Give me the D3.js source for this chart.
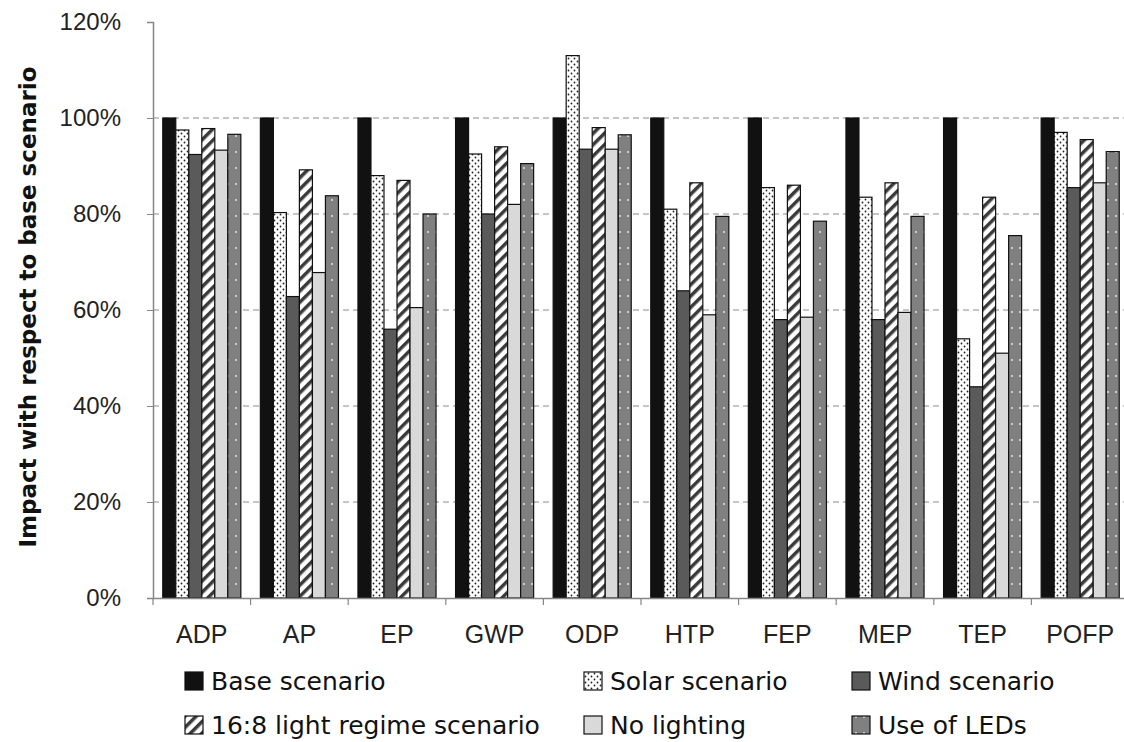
<!DOCTYPE html>
<html>
<head>
<meta charset="utf-8">
<script src="https://cdn.jsdelivr.net/npm/d3@7"></script>
<style>
  body { margin: 0; background: #fff; }
  svg { font-family: "DejaVu Sans", sans-serif; }
</style>
</head>
<body>
<svg id="chart" width="1124" height="742"></svg>
<script>
const categories = ['ADP', 'AP', 'EP', 'GWP', 'ODP', 'HTP', 'FEP', 'MEP', 'TEP', 'POFP'];
const seriesNames = ['Base scenario', 'Solar scenario', 'Wind scenario',
    '16:8 light regime scenario', 'No lighting', 'Use of LEDs'];
const base    = [100, 100, 100, 100, 100, 100, 100, 100, 100, 100];
const solar   = [97.5, 80.3, 88, 92.5, 113, 81, 85.5, 83.5, 54, 97];
const wind    = [92.4, 62.8, 56, 80, 93.5, 64, 58, 58, 44, 85.5];
const regime  = [97.8, 89.2, 87, 94, 98, 86.5, 86, 86.5, 83.5, 95.5];
const noLight = [93.3, 67.8, 60.5, 82, 93.5, 59, 58.5, 59.5, 51, 86.5];
const leds    = [96.6, 83.8, 80, 90.5, 96.5, 79.5, 78.5, 79.5, 75.5, 93];
const yTicks = [0, 20, 40, 60, 80, 100, 120];

const series = [base, solar, wind, regime, noLight, leds];
const fills = ['#111111', 'url(#dots)', '#5a5a5a', 'url(#stripes)', '#d9d9d9', 'url(#ledDots)'];

const svg = d3.select('#chart');
const mLeft = 153, mTop = 22, mBottom = 598, bandW = 97.6;
const mRight = mLeft + bandW * categories.length;

// patterns
const defs = svg.append('defs');
const dots = defs.append('pattern').attr('id', 'dots').attr('patternUnits', 'userSpaceOnUse')
    .attr('width', 6).attr('height', 6);
dots.append('rect').attr('width', 6).attr('height', 6).attr('fill', '#fff');
dots.append('circle').attr('cx', 1.5).attr('cy', 1.5).attr('r', 0.9).attr('fill', '#222');
dots.append('circle').attr('cx', 4.5).attr('cy', 4.5).attr('r', 0.9).attr('fill', '#222');

const stripes = defs.append('pattern').attr('id', 'stripes').attr('patternUnits', 'userSpaceOnUse')
    .attr('width', 8).attr('height', 8).attr('patternTransform', 'rotate(45)');
stripes.append('rect').attr('width', 8).attr('height', 8).attr('fill', '#fff');
stripes.append('rect').attr('width', 3.5).attr('height', 8).attr('fill', '#3a3a3a');

const ledDots = defs.append('pattern').attr('id', 'ledDots').attr('patternUnits', 'userSpaceOnUse')
    .attr('width', 8).attr('height', 16);
ledDots.append('rect').attr('width', 8).attr('height', 16).attr('fill', '#808080');
ledDots.append('circle').attr('cx', 4).attr('cy', 8).attr('r', 0.9).attr('fill', '#eee');

const x = d3.scaleBand().domain(categories).range([mLeft, mRight]).paddingInner(0.2).paddingOuter(0.1);
const xs = d3.scaleBand().domain(d3.range(series.length)).range([0, x.bandwidth()]);
const y = d3.scaleLinear().domain([0, 120]).range([mBottom, mTop]);

// gridlines
svg.append('g').selectAll('line').data(yTicks.filter(t => t > 0 && t < 120)).enter().append('line')
    .attr('x1', mLeft).attr('x2', mRight)
    .attr('y1', d => y(d)).attr('y2', d => y(d))
    .attr('stroke', '#8c8c8c').attr('stroke-width', 1.2).attr('stroke-dasharray', '6,4');

// bars
categories.forEach((c, i) => {
    series.forEach((s, j) => {
        svg.append('rect')
            .attr('x', x(c) + xs(j))
            .attr('y', y(s[i]))
            .attr('width', xs.bandwidth())
            .attr('height', y(0) - y(s[i]))
            .attr('fill', fills[j])
            .attr('stroke', '#111').attr('stroke-width', 1.2);
    });
});

// y axis
const yAxis = svg.append('g').attr('transform', `translate(${mLeft},0)`)
    .call(d3.axisLeft(y).tickValues(yTicks).tickFormat(d => d + '%').tickSizeOuter(0).tickSize(6));
yAxis.select('.domain').attr('stroke', '#868686').attr('stroke-width', 1.5);
yAxis.selectAll('.tick line').attr('stroke', '#868686');
yAxis.selectAll('.tick text').attr('font-size', 24).attr('fill', '#222').attr('x', -32);

// x axis
const xAxis = svg.append('g').attr('transform', `translate(0,${mBottom})`)
    .call(d3.axisBottom(x).tickSize(0).tickSizeOuter(0));
xAxis.select('.domain').attr('stroke', '#868686').attr('stroke-width', 1.5);
xAxis.selectAll('.tick text').attr('font-size', 25).attr('fill', '#222')
    .attr('y', 45).attr('dy', 0);
// category separators
xAxis.append('g').selectAll('line').data(d3.range(categories.length + 1)).enter().append('line')
    .attr('x1', d => mLeft + d * bandW).attr('x2', d => mLeft + d * bandW)
    .attr('y1', 0).attr('y2', 7).attr('stroke', '#868686').attr('stroke-width', 1.2);

// y label
svg.append('text')
    .attr('transform', 'translate(36,307) rotate(-90)')
    .attr('text-anchor', 'middle')
    .attr('font-size', 23).attr('font-weight', 'bold').attr('fill', '#111')
    .text('Impact with respect to base scenario');

// legend
const legX = [185, 584, 852];
const legY = [681, 725];
seriesNames.forEach((name, j) => {
    const col = j % 3, row = Math.floor(j / 3);
    const g = svg.append('g').attr('transform', `translate(${legX[col]},${legY[row]})`);
    g.append('rect').attr('x', 0).attr('y', -9).attr('width', 18).attr('height', 18)
        .attr('fill', fills[j]).attr('stroke', '#111').attr('stroke-width', 1.2);
    g.append('text').attr('x', 26).attr('y', 9)
        .attr('font-size', 25).attr('fill', '#111').text(name);
});
</script>
</body>
</html>
